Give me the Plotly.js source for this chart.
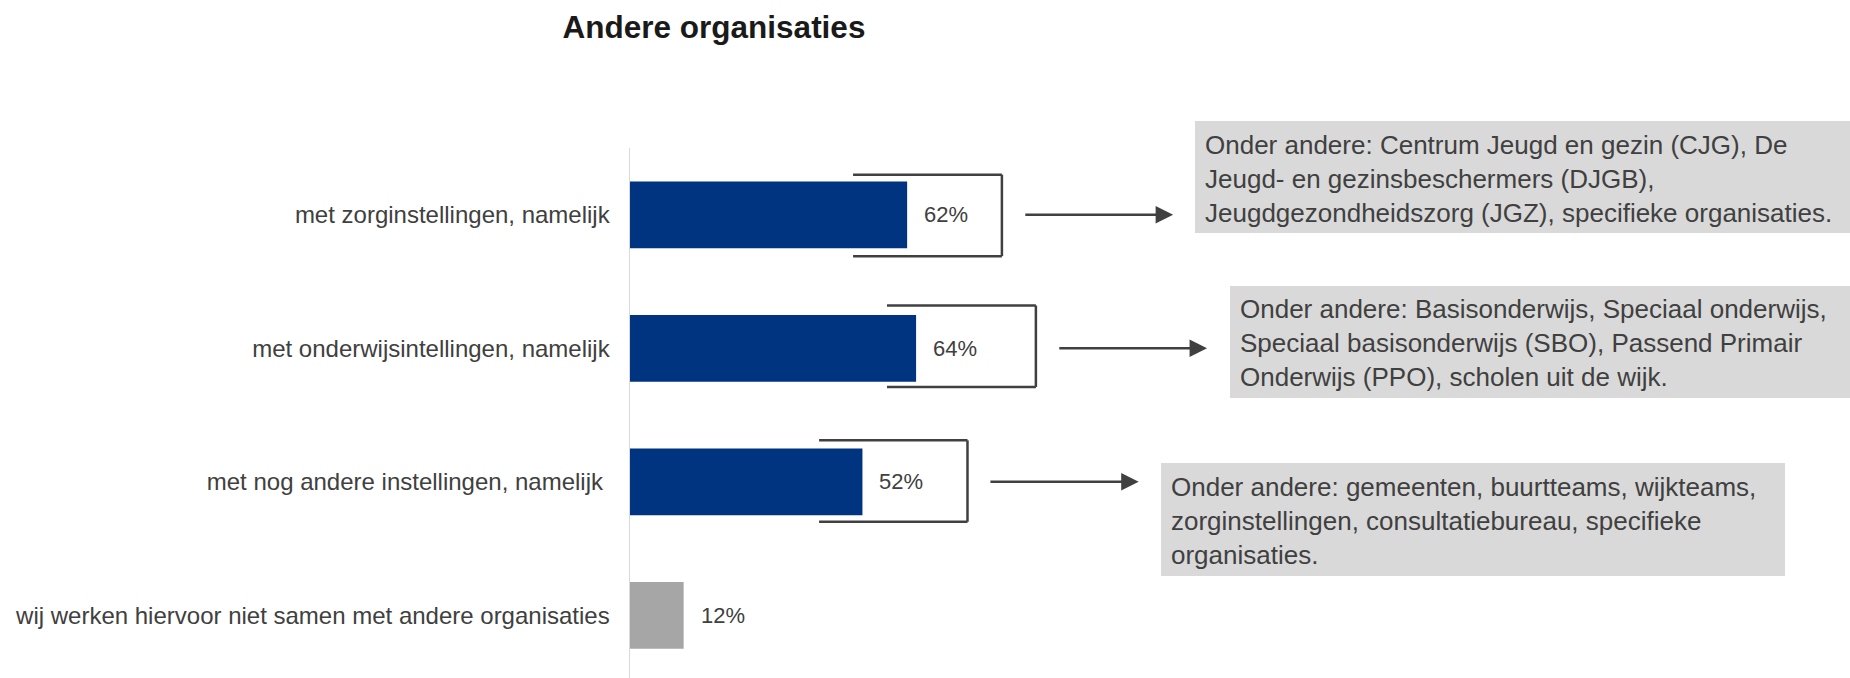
<!DOCTYPE html>
<html>
<head>
<meta charset="utf-8">
<script src="https://cdn.plot.ly/plotly-3.0.1.min.js"></script>
<style>html,body{margin:0;padding:0;overflow:hidden;background:#fff}#chart{width:1850px;height:678px}</style>
</head>
<body>
<div id="chart"></div>
<script>
const categories = [
  "met zorginstellingen, namelijk",
  "met onderwijsintellingen, namelijk",
  "met nog andere instellingen, namelijk\u00a0",
  "wij werken hiervoor niet samen met andere organisaties"
];
const values = [62, 64, 52, 12];
const valueLabels = ["62%", "64%", "52%", "12%"];
const barColors = ["#003380", "#003380", "#003380", "#a6a6a6"];
const noteTexts = [
  "Onder andere: Centrum Jeugd en gezin (CJG), De<br>Jeugd- en gezinsbeschermers (DJGB),<br>Jeugdgezondheidszorg (JGZ), specifieke organisaties.",
  "Onder andere: Basisonderwijs, Speciaal onderwijs,<br>Speciaal basisonderwijs (SBO), Passend Primair<br>Onderwijs (PPO), scholen uit de wijk.",
  "Onder andere: gemeenten, buurtteams, wijkteams,<br>zorginstellingen, consultatiebureau, specifieke<br>organisaties."
];
const chartTitle = "Andere organisaties";

// layout geometry (pixels)
const W = 1850, H = 678, ML = 630, MT = 148, MB = 0, MR = 0;
const pxPerPct = 4.47;
const PX = p => (p - ML) / (W - ML - MR);
const PY = p => (H - MB - p) / (H - MT - MB);

const FONT = "Liberation Sans, Arial, Helvetica, sans-serif";
const TXT = "#404040";

const trace = {
  type: "bar",
  orientation: "h",
  y: categories,
  x: values,
  width: 0.5,
  marker: {color: barColors, line: {width: 0}},
  hoverinfo: "none"
};

const shapes = [];
const annotations = [];

// value labels
values.forEach((v, i) => {
  annotations.push({
    xref: "x", yref: "y", x: v, y: i, text: valueLabels[i],
    showarrow: false, xanchor: "left", yanchor: "middle", xshift: 15,
    font: {family: FONT, size: 22, color: TXT}
  });
});

// brackets (open on the left), in data units
const brackets = [
  {x0: 49.9, x1: 83.2, y0: -0.3, y1: 0.31},
  {x0: 57.5, x1: 90.8, y0: -0.32, y1: 0.29},
  {x0: 42.3, x1: 75.5, y0: -0.31, y1: 0.3}
];
brackets.forEach((b, i) => {
  const line = {color: TXT, width: 2.5};
  const yi = i;
  shapes.push({type: "line", xref: "x", yref: "y", x0: b.x0, x1: b.x1, y0: yi + b.y0, y1: yi + b.y0, line});
  shapes.push({type: "line", xref: "x", yref: "y", x0: b.x1, x1: b.x1, y0: yi + b.y0, y1: yi + b.y1, line});
  shapes.push({type: "line", xref: "x", yref: "y", x0: b.x1, x1: b.x0, y0: yi + b.y1, y1: yi + b.y1, line});
});

// arrows
const arrows = [
  {from: 88.1, to: 121.5},
  {from: 95.7, to: 129.1},
  {from: 80.3, to: 113.8}
];
arrows.forEach((a, i) => {
  annotations.push({
    xref: "x", yref: "y", axref: "x", ayref: "y",
    x: a.to, y: i, ax: a.from, ay: i, text: "",
    showarrow: true, arrowhead: 2, arrowsize: 1.4, arrowwidth: 2.5,
    arrowcolor: TXT, standoff: 0, startstandoff: 0
  });
});

// grey note boxes (pixel geometry)
const boxes = [
  {l: 1195, r: 1860, t: 121, b: 233, tx: 1203, ty: 179},
  {l: 1230, r: 1860, t: 286, b: 398, tx: 1238, ty: 343},
  {l: 1161, r: 1785, t: 463, b: 576, tx: 1169, ty: 521}
];
boxes.forEach((b, i) => {
  shapes.push({type: "rect", xref: "paper", yref: "paper",
    x0: PX(b.l), x1: PX(b.r), y0: PY(b.b), y1: PY(b.t),
    fillcolor: "#d9d9d9", line: {width: 0}, layer: "below"});
  annotations.push({
    xref: "paper", yref: "paper", x: PX(b.tx), y: PY(b.ty),
    xanchor: "left", yanchor: "middle", align: "left", showarrow: false,
    text: noteTexts[i], font: {family: FONT, size: 26, color: TXT}
  });
});

const layout = {
  width: W, height: H,
  margin: {l: ML, r: MR, t: MT, b: MB, pad: 0},
  paper_bgcolor: "#ffffff", plot_bgcolor: "#ffffff",
  showlegend: false,
  title: {
    text: "<b>" + chartTitle + "</b>",
    xref: "container", yref: "container",
    x: 714 / W, xanchor: "center",
    y: 1 - 27 / H, yanchor: "middle",
    font: {family: FONT, size: 31.5, color: "#1a1a1a"}
  },
  xaxis: {range: [0, (W - ML - MR) / pxPerPct], visible: false, fixedrange: true},
  yaxis: {
    type: "category",
    range: [3.47, -0.5],
    showline: true, linecolor: "#d9d9d9", linewidth: 1.5,
    showgrid: false, zeroline: false,
    ticks: "outside", ticklen: 14, tickcolor: "rgba(0,0,0,0)",
    tickfont: {family: FONT, size: 24, color: TXT},
    fixedrange: true
  },
  shapes, annotations
};

Plotly.newPlot("chart", [trace], layout, {displayModeBar: false, staticPlot: true});
</script>
</body>
</html>
